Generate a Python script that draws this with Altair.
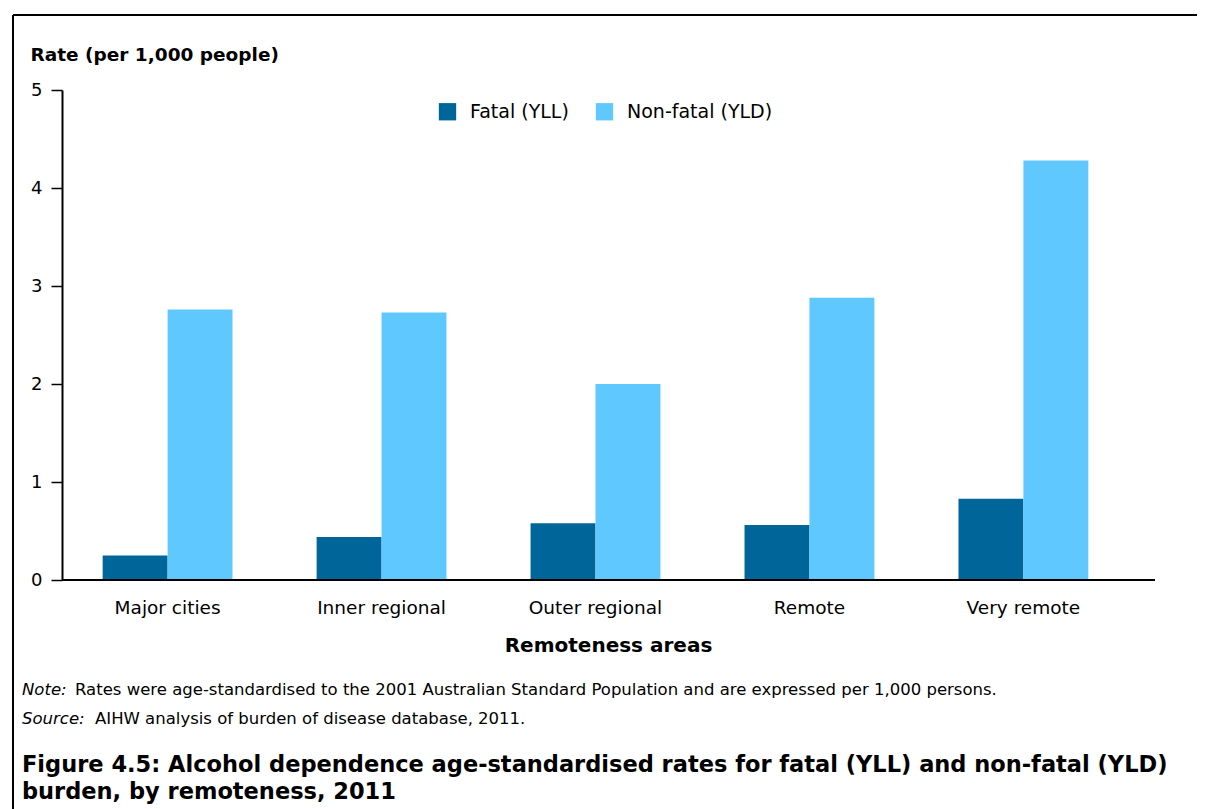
import altair as alt
import pandas as pd

areas = ["Major cities", "Inner regional", "Outer regional", "Remote", "Very remote"]
fatal = [0.25, 0.44, 0.58, 0.56, 0.83]
nonfatal = [2.76, 2.73, 2.00, 2.88, 4.28]
series = ["Fatal (YLL)", "Non-fatal (YLD)"]
colors = ["#006699", "#5FC9FF"]

note_label = "Note:"
note_text = "Rates were age-standardised to the 2001 Australian Standard Population and are expressed per 1,000 persons."
source_label = "Source:"
source_text = "AIHW analysis of burden of disease database, 2011."
caption1 = "Figure 4.5: Alcohol dependence age-standardised rates for fatal (YLL) and non-fatal (YLD)"
caption2 = "burden, by remoteness, 2011"

rows = []
for a, f, n in zip(areas, fatal, nonfatal):
    rows.append({"area": a, "series": series[0], "value": f})
    rows.append({"area": a, "series": series[1], "value": n})
df = pd.DataFrame(rows)

W, H = 1093, 490
FONT = "DejaVu Sans"

bars = alt.Chart(df).mark_bar().encode(
    x=alt.X("area:N", sort=areas, title="Remoteness areas",
            scale=alt.Scale(paddingInner=0.393, paddingOuter=0.19, range=[0, 1067]),
            axis=alt.Axis(labelAngle=0, labelFontSize=18.5, labelFont=FONT, labelColor="#000",
                          labelPadding=18, ticks=False, domain=False,
                          titleFont=FONT, titleFontSize=20, titleFontWeight="bold",
                          titleColor="#000", titlePadding=19, titleX=546, titleAlign="center")),
    xOffset=alt.XOffset("series:N", sort=series),
    y=alt.Y("value:Q", title="Rate (per 1,000 people)",
            scale=alt.Scale(domain=[0, 5], nice=False),
            axis=alt.Axis(values=[0, 1, 2, 3, 4, 5], grid=False, labelFontSize=18, labelFont=FONT,
                          labelColor="#000", tickSize=11, tickColor="#000", tickWidth=1.5,
                          domainColor="#000", domainWidth=2, labelPadding=9,
                          titleAngle=0, titleAlign="left", titleBaseline="alphabetic",
                          titleX=-32, titleY=-30, titleFont=FONT, titleFontSize=18.5,
                          titleFontWeight="bold", titleColor="#000")),
    color=alt.Color("series:N", sort=series,
                    scale=alt.Scale(domain=series, range=colors),
                    legend=alt.Legend(title=None, orient="none", direction="horizontal",
                                      legendX=376, legendY=12, symbolType="square",
                                      symbolSize=300, symbolStrokeWidth=0, labelFontSize=19,
                                      labelFont=FONT, labelColor="#000", columnPadding=26,
                                      labelOffset=13)),
)

txt = pd.DataFrame([{"k": 0}])

def text_layer(s, x, y, size, weight="normal", style="normal"):
    return alt.Chart(txt).mark_text(text=s, align="left", baseline="alphabetic", font=FONT,
                                    fontSize=size, fontWeight=weight, fontStyle=style,
                                    color="#000").encode(x=alt.value(x), y=alt.value(y))

note1 = text_layer(note_label, -40, 605, 16.5, style="italic")
note2 = text_layer(note_text, 13, 605, 16.5)
src1 = text_layer(source_label, -40, 634, 16.5, style="italic")
src2 = text_layer(source_text, 33, 634, 16.5)
cap1 = text_layer(caption1, -40, 682, 22.5, weight="bold")
cap2 = text_layer(caption2, -40, 709, 22.5, weight="bold")

x_domain = alt.Chart(txt).mark_rule(color="#000", strokeWidth=2).encode(
    x=alt.value(0), x2=alt.value(W), y=alt.value(H))
top_rule = alt.Chart(txt).mark_rule(color="#000", strokeWidth=2).encode(
    x=alt.value(-49), x2=alt.value(1145), y=alt.value(-75))
left_rule = alt.Chart(txt).mark_rule(color="#000", strokeWidth=2).encode(
    x=alt.value(-49), y=alt.value(-75), y2=alt.value(740))

chart = alt.layer(bars, x_domain, top_rule, left_rule, note1, note2, src1, src2, cap1, cap2).properties(
    width=W, height=H,
    autosize=alt.AutoSizeParams(type="none"),
    padding={"left": 54, "top": 82, "right": 42, "bottom": 240},
).configure(background="white").configure_view(stroke=None)

chart.save("out.html", embed_options={"renderer": "svg", "actions": False})
